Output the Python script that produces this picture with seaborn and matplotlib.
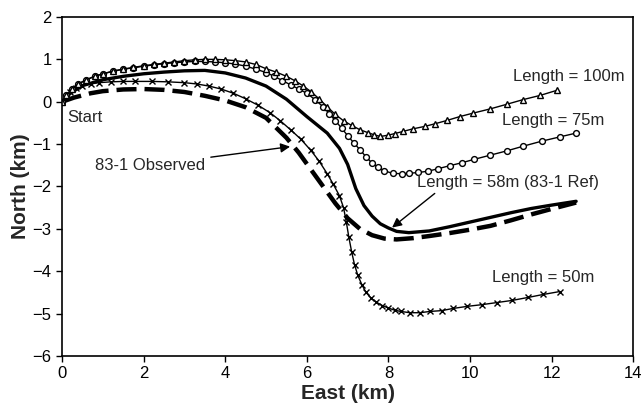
import matplotlib
matplotlib.use("Agg")
import matplotlib.pyplot as plt
import seaborn as sns
import pandas as pd

# ---- data (East km, North km) ----
len100_x = [0, 0.1, 0.25, 0.4, 0.6, 0.8, 1.0, 1.25, 1.5, 1.75, 2.0, 2.25, 2.5, 2.75, 3.0, 3.25, 3.5, 3.75,
            4.0, 4.25, 4.5, 4.75, 5.0, 5.25, 5.5, 5.7, 5.9, 6.1, 6.3, 6.5, 6.7, 6.9, 7.1, 7.3, 7.5, 7.65, 7.8,
            7.99, 8.16, 8.36, 8.6, 8.9, 9.14, 9.44, 9.75, 10.07, 10.49, 10.9, 11.3, 11.72, 12.13]
len100_y = [0, 0.15, 0.3, 0.42, 0.52, 0.6, 0.66, 0.72, 0.77, 0.81, 0.85, 0.88, 0.91, 0.94, 0.97, 0.99, 1.0, 1.0,
            0.99, 0.97, 0.94, 0.88, 0.78, 0.7, 0.6, 0.5, 0.38, 0.24, 0.07, -0.12, -0.3, -0.45, -0.56, -0.66, -0.73, -0.78, -0.82,
            -0.79, -0.75, -0.7, -0.64, -0.58, -0.52, -0.44, -0.35, -0.27, -0.17, -0.06, 0.05, 0.15, 0.27]

len75_x = [0, 0.1, 0.25, 0.4, 0.6, 0.8, 1.0, 1.25, 1.5, 1.75, 2.0, 2.25, 2.5, 2.75, 3.0, 3.25, 3.5, 3.75,
           4.0, 4.25, 4.5, 4.75, 5.0, 5.2, 5.4, 5.6, 5.8, 6.0, 6.2, 6.4, 6.55, 6.7, 6.85, 7.0, 7.15, 7.3, 7.45,
           7.6, 7.75, 7.9, 8.1, 8.33, 8.5, 8.73, 8.97, 9.22, 9.5, 9.8, 10.1, 10.5, 10.9, 11.3, 11.76, 12.2, 12.6]
len75_y = [0, 0.15, 0.3, 0.42, 0.52, 0.6, 0.66, 0.72, 0.77, 0.8, 0.84, 0.87, 0.9, 0.92, 0.94, 0.95, 0.95, 0.94,
           0.92, 0.89, 0.84, 0.77, 0.69, 0.6, 0.5, 0.4, 0.3, 0.2, 0.05, -0.12, -0.28, -0.45, -0.62, -0.8, -0.97, -1.13, -1.3,
           -1.45, -1.55, -1.63, -1.69, -1.7, -1.69, -1.67, -1.64, -1.58, -1.51, -1.44, -1.36, -1.26, -1.16, -1.05, -0.93, -0.83, -0.74]

len58_x = [0, 0.2, 0.5, 1.0, 1.5, 2.0, 2.5, 3.0, 3.5, 4.0, 4.5, 5.0, 5.5, 6.0, 6.5, 6.8, 7.0, 7.2, 7.4, 7.6,
           7.8, 8.0, 8.2, 8.5, 9.0, 9.5, 10.0, 10.5, 11.0, 11.5, 12.0, 12.6]
len58_y = [0, 0.2, 0.38, 0.52, 0.6, 0.66, 0.7, 0.73, 0.74, 0.68, 0.56, 0.37, 0.06, -0.35, -0.74, -1.1, -1.48, -2.05,
           -2.45, -2.7, -2.88, -2.98, -3.06, -3.09, -3.05, -2.95, -2.84, -2.73, -2.62, -2.52, -2.44, -2.35]

obs_x = [0, 0.3, 0.7, 1.0, 1.5, 2.0, 2.5, 3.0, 3.5, 4.0, 4.5, 5.0, 5.5, 5.8, 6.1, 6.4, 6.7, 7.0, 7.3, 7.6,
         7.9, 8.2, 8.6, 9.0, 9.5, 10.0, 10.5, 11.0, 11.5, 12.0, 12.6]
obs_y = [0, 0.1, 0.2, 0.25, 0.29, 0.3, 0.28, 0.23, 0.14, 0.03, -0.13, -0.38, -0.85, -1.2, -1.6, -2.0, -2.4, -2.75,
         -3.0, -3.15, -3.23, -3.25, -3.22, -3.17, -3.1, -3.02, -2.93, -2.8, -2.66, -2.53, -2.38]

len50_x = [0, 0.1, 0.2, 0.35, 0.5, 0.7, 0.9, 1.2, 1.5, 1.8, 2.2, 2.6, 3.0, 3.3, 3.6, 3.9, 4.2, 4.5, 4.8, 5.1,
           5.35, 5.6, 5.85, 6.1, 6.3, 6.5, 6.65, 6.8, 6.9, 6.97, 7.03, 7.1, 7.17, 7.25, 7.35, 7.45, 7.57, 7.7,
           7.85, 8.0, 8.15, 8.3, 8.53, 8.77, 9.02, 9.31, 9.58, 9.93, 10.29, 10.66, 11.03, 11.42, 11.79, 12.2]
len50_y = [0, 0.12, 0.22, 0.33, 0.38, 0.42, 0.45, 0.47, 0.48, 0.48, 0.48, 0.47, 0.45, 0.42, 0.37, 0.3, 0.2, 0.07,
           -0.08, -0.26, -0.45, -0.66, -0.88, -1.15, -1.4, -1.7, -1.95, -2.22, -2.5, -2.85, -3.2, -3.55, -3.85, -4.1,
           -4.32, -4.5, -4.63, -4.73, -4.81, -4.87, -4.92, -4.95, -4.98, -4.98, -4.95, -4.93, -4.88, -4.83, -4.79,
           -4.74, -4.69, -4.62, -4.55, -4.48]

x_ticks = [0, 2, 4, 6, 8, 10, 12, 14]
y_ticks = [2, 1, 0, -1, -2, -3, -4, -5, -6]

sns.set_style("ticks")
plt.rcParams['font.family'] = ['Liberation Sans', 'DejaVu Sans']

fig = plt.figure(figsize=(6.44, 4.11), dpi=100)
ax = fig.add_axes([0.0963, 0.134, 0.887, 0.8246])

def draw(x, y, **kw):
    df = pd.DataFrame({"East": x, "North": y})
    sns.lineplot(data=df, x="East", y="North", sort=False, estimator=None, ax=ax, **kw)

draw(obs_x, obs_y, color="black", linewidth=3.2, linestyle=(0, (4.5, 1.8)))
draw(len58_x, len58_y, color="black", linewidth=2.4)
draw(len50_x, len50_y, color="black", linewidth=1.0, marker="x", markersize=4.5,
     markeredgecolor="black", markeredgewidth=1.0)
draw(len75_x, len75_y, color="black", linewidth=1.0, marker="o", markersize=4.2,
     markerfacecolor="white", markeredgecolor="black", markeredgewidth=1.0)
draw(len100_x, len100_y, color="black", linewidth=1.0, marker="^", markersize=4.5,
     markerfacecolor="white", markeredgecolor="black", markeredgewidth=1.0)

ax.set_xlim(0, 14)
ax.set_ylim(-6, 2)
ax.set_xticks(x_ticks)
ax.set_yticks(y_ticks)
ax.tick_params(labelsize=12, length=4, width=1, colors="black", direction="out")
for s in ax.spines.values():
    s.set_visible(True)
    s.set_color("black")
    s.set_linewidth(1.2)
ax.set_xlabel("East (km)", fontsize=15, fontweight="bold", labelpad=2)
ax.set_ylabel("North (km)", fontsize=15, fontweight="bold", labelpad=2)

fs = 12
ax.text(0.12, -0.38, "Start", fontsize=fs, va="center", ha="left")
ax.text(11.05, 0.59, "Length = 100m", fontsize=fs, va="center", ha="left")
ax.text(10.78, -0.45, "Length = 75m", fontsize=fs, va="center", ha="left")
ax.text(10.54, -4.15, "Length = 50m", fontsize=fs, va="center", ha="left")
ax.annotate("83-1 Observed", xy=(5.59, -1.06), xytext=(0.8, -1.5), fontsize=fs, va="center", ha="left",
            arrowprops=dict(arrowstyle="-|>", color="black", lw=1.0, mutation_scale=14,
                            shrinkA=2, shrinkB=0))
ax.annotate("Length = 58m (83-1 Ref)", xy=(8.09, -2.97), xytext=(8.7, -1.91), fontsize=fs,
            va="center", ha="left",
            arrowprops=dict(arrowstyle="-|>", color="black", lw=1.0, mutation_scale=14,
                            shrinkA=0, shrinkB=0, relpos=(0.12, 0.0)))

fig.savefig("out.png", dpi=100)
